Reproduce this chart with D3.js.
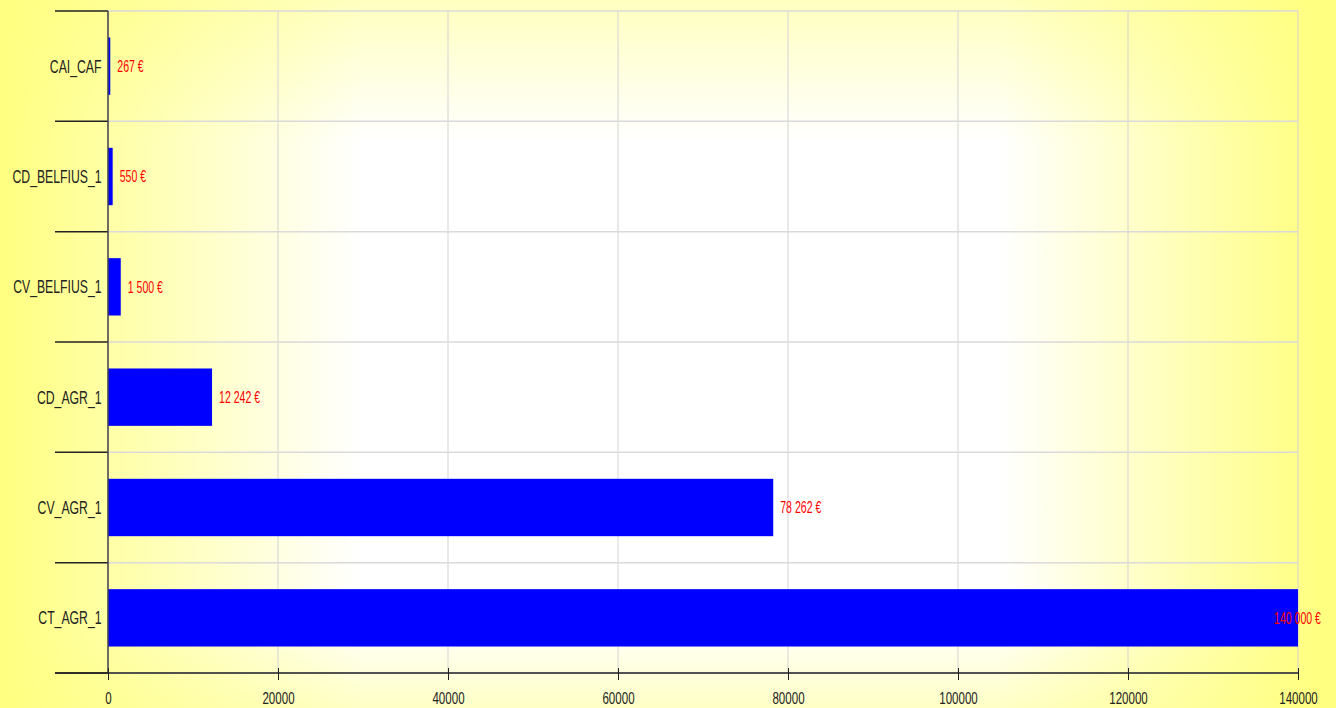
<!DOCTYPE html>
<html>
<head>
<meta charset="utf-8">
<script src="https://cdn.jsdelivr.net/npm/d3@7"></script>
<style>
    body { margin: 0; background: #ffffff; }
    svg { display: block; }
    text { font-family: "Liberation Sans", Arial, sans-serif; }
</style>
</head>
<body>
<div id="chart"></div>
<script>
// Values
const categories = ["CAI_CAF", "CD_BELFIUS_1", "CV_BELFIUS_1", "CD_AGR_1", "CV_AGR_1", "CT_AGR_1"];
const amounts = [267, 550, 1500, 12242, 78262, 140000];
const xTicks = [0, 20000, 40000, 60000, 80000, 100000, 120000, 140000];

const width = 1336, height = 708;
const margin = {top: 11, right: 38, bottom: 35, left: 108};
const plotW = width - margin.left - margin.right;
const plotH = height - margin.top - margin.bottom;
// the reference text is a narrow face, so squeeze a regular one
const sx = 0.68, sxVal = 0.66;

let svg = d3.select("#chart")
    .append("svg")
    .attr("width", width)
    .attr("height", height);

let defs = svg.append("defs");

// Background: white in the middle, yellow fading in from the edges
let hGrad = defs.append("linearGradient")
    .attr("id", "bgH")
    .attr("x1", 0).attr("x2", 1).attr("y1", 0).attr("y2", 0);
[[0, 1], [0.27, 0], [0.749, 0], [0.988, 1], [1, 1]].forEach(function (s) {
    hGrad.append("stop").attr("offset", s[0])
        .attr("stop-color", "#ffff80").attr("stop-opacity", s[1]);
});

let vGrad = defs.append("linearGradient")
    .attr("id", "bgV")
    .attr("x1", 0).attr("x2", 0).attr("y1", 0).attr("y2", 1);
[[0, 0.5], [0.2, 0], [0.876, 0], [1, 0.45]].forEach(function (s) {
    vGrad.append("stop").attr("offset", s[0])
        .attr("stop-color", "#ffff80").attr("stop-opacity", s[1]);
});

svg.append("rect").attr("width", width).attr("height", height).attr("fill", "#ffffff");
svg.append("rect").attr("width", width).attr("height", height).attr("fill", "url(#bgV)");
svg.append("rect").attr("width", width).attr("height", height).attr("fill", "url(#bgH)");

let g = svg.append("g")
    .attr("transform", `translate(${margin.left}, ${margin.top})`);

let x = d3.scaleLinear()
    .domain([0, 140000])
    .range([0, plotW]);

let y = d3.scaleBand()
    .domain(categories)
    .range([0, plotH])
    .paddingInner(0.48)
    .paddingOuter(0.24);

const step = y.step();
const bounds = d3.range(categories.length + 1).map(i => i * step);

// Grid lines
g.selectAll("line.vgrid")
    .data(xTicks)
    .enter()
    .append("line")
    .attr("class", "vgrid")
    .attr("x1", d => x(d)).attr("x2", d => x(d))
    .attr("y1", 0).attr("y2", plotH)
    .style("stroke", "#d3d3d3")
    .style("stroke-width", 1);

g.selectAll("line.hgrid")
    .data(bounds)
    .enter()
    .append("line")
    .attr("class", "hgrid")
    .attr("x1", 0).attr("x2", plotW)
    .attr("y1", d => d).attr("y2", d => d)
    .style("stroke", "#dadada")
    .style("stroke-width", 1.5);

// Bars
g.selectAll("rect.bar")
    .data(amounts)
    .enter()
    .append("rect")
    .attr("class", "bar")
    .attr("x", 0)
    .attr("y", (d, i) => y(categories[i]))
    .attr("width", d => x(d))
    .attr("height", y.bandwidth())
    .style("fill", "#0000ff");

// Category axis: labels from axisLeft, long ticks on the band edges
let yAxis = g.append("g")
    .call(d3.axisLeft(y).tickSize(0));
yAxis.select(".domain").remove();
yAxis.selectAll("text")
    .attr("x", -6.5 / sx)
    .attr("dy", "0.36em")
    .attr("transform", `scale(${sx},1)`)
    .style("font-size", "18px")
    .style("fill", "#222");

g.selectAll("line.ctick")
    .data(bounds)
    .enter()
    .append("line")
    .attr("class", "ctick")
    .attr("x1", -53).attr("x2", 0)
    .attr("y1", d => d).attr("y2", d => d)
    .style("stroke", "#222")
    .style("stroke-width", 1.5);

g.append("line")
    .attr("x1", 0).attr("x2", 0)
    .attr("y1", 0).attr("y2", plotH)
    .style("stroke", "#444")
    .style("stroke-width", 1.5);

// Value axis
let xAxis = g.append("g")
    .attr("transform", `translate(0, ${plotH})`)
    .call(d3.axisBottom(x).tickValues(xTicks).tickSize(7).tickFormat(d3.format("d")));
xAxis.select(".domain").remove();
xAxis.selectAll(".tick line")
    .attr("y1", -5)
    .style("stroke", "#222");
xAxis.selectAll("text")
    .attr("y", 31)
    .attr("dy", 0)
    .attr("transform", `scale(${sx},1)`)
    .style("font-size", "17px")
    .style("fill", "#222");

g.append("line")
    .attr("x1", -53).attr("x2", plotW)
    .attr("y1", plotH).attr("y2", plotH)
    .style("stroke", "#222")
    .style("stroke-width", 1.5);

// Value labels
const euro = d3.formatLocale({decimal: ",", thousands: " ", grouping: [3], currency: ["", " €"]});
const fmt = euro.format(",d");

let labels = g.selectAll("g.vlabel")
    .data(amounts)
    .enter()
    .append("g")
    .attr("class", "vlabel");

labels.append("text")
    .attr("dy", "0.36em")
    .attr("transform", `scale(${sxVal},1)`)
    .style("font-size", "16px")
    .style("fill", "#ff0000")
    .text(d => fmt(d) + " €");

labels.attr("transform", function (d, i) {
    const w = this.querySelector("text").getComputedTextLength() * sxVal;
    const lx = Math.min(x(d) + 7, plotW + 23 - w);
    return `translate(${lx}, ${y(categories[i]) + y.bandwidth() / 2})`;
});
</script>
</body>
</html>
